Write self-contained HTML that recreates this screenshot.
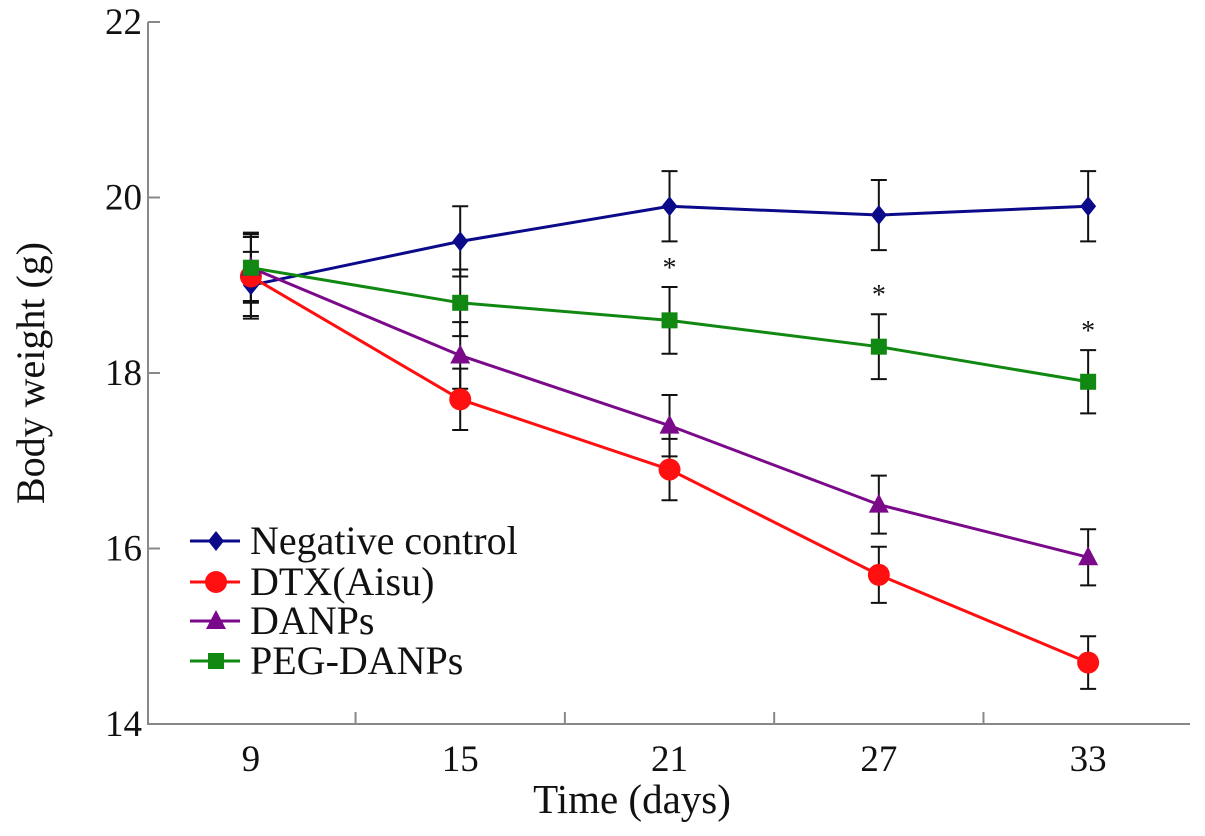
<!DOCTYPE html>
<html><head><meta charset="utf-8"><style>
body{margin:0;background:#fff}
svg text{font-family:"Liberation Serif",serif;fill:#111}
</style></head><body>
<svg id="chart" width="1205" height="831" xmlns="http://www.w3.org/2000/svg"></svg>
<script>
const days=[9,15,21,27,33];
const yTicks=[14,16,18,20,22];
const xMinor=[12,18,24,30];
const seriesNames=["Negative control","DTX(Aisu)","DANPs","PEG-DANPs"];
const negValues=[19.0,19.5,19.9,19.8,19.9];
const negErr=[0.38,0.4,0.4,0.4,0.4];
const dtxValues=[19.1,17.7,16.9,15.7,14.7];
const dtxErr=[0.45,0.35,0.35,0.32,0.3];
const danpValues=[19.2,18.2,17.4,16.5,15.9];
const danpErr=[0.4,0.38,0.35,0.33,0.32];
const pegValues=[19.2,18.8,18.6,18.3,17.9];
const pegErr=[0.38,0.38,0.38,0.37,0.36];
const starDays=[21,27,33];
const NS="http://www.w3.org/2000/svg";
const svg=document.getElementById('chart');
const X0=148,X1=1190,Y0=724,Y1=22;
const xMin=6.05,xMax=35.92,yMin=14,yMax=22;
const xs=v=>X0+(v-xMin)/(xMax-xMin)*(X1-X0);
const ys=v=>Y0-(v-yMin)/(yMax-yMin)*(Y0-Y1);
function el(t,a,p){const e=document.createElementNS(NS,t);for(const k in a)e.setAttribute(k,a[k]);(p||svg).appendChild(e);return e;}
const ax=el('path',{d:`M${X0},${Y1}V${Y0}H${X1}`,fill:'none',stroke:'#888','stroke-width':2});


yTicks.forEach(t=>{
 const l=el('line',{x1:X0,x2:X0+12,y1:ys(t),y2:ys(t),stroke:'#888','stroke-width':2});
 
 
 const tx=el('text',{x:X0-6,y:ys(t)+12,'text-anchor':'end','font-size':37});tx.textContent=t;
 
 
});
xMinor.forEach(t=>{
 const l=el('line',{x1:xs(t),x2:xs(t),y1:Y0,y2:Y0-12,stroke:'#888','stroke-width':2});
 
 
});
days.forEach(d=>{
 const tx=el('text',{x:xs(d),y:771,'text-anchor':'middle','font-size':37});tx.textContent=d;
 
 
});
let t=el('text',{x:632,y:813,'text-anchor':'middle','font-size':41});t.textContent='Time (days)';


t=el('text',{x:0,y:0,'text-anchor':'middle','font-size':40,transform:'translate(44,373) rotate(-90)'});t.textContent='Body weight (g)';


function marker(type,x,y,c,g){
 if(type==='d')return el('polygon',{points:`${x},${y-10} ${x+8},${y} ${x},${y+10} ${x-8},${y}`,fill:c},g);
 if(type==='c')return el('circle',{cx:x,cy:y,r:11,fill:c},g);
 if(type==='t')return el('polygon',{points:`${x},${y-11} ${x+10},${y+8} ${x-10},${y+8}`,fill:c},g);
 return el('rect',{x:x-8,y:y-8,width:16,height:16,fill:c},g);
}
const series=[[negValues,negErr,'#0a0a8a','d','negative-control'],[dtxValues,dtxErr,'#ff0f0f','c','dtx-aisu'],[danpValues,danpErr,'#7a0a8a','t','danps'],[pegValues,pegErr,'#118811','s','peg-danps']];
series.forEach(s=>{
 s[0].forEach((v,i)=>{
  const x=xs(days[i]),a=ys(v+s[1][i]),b=ys(v-s[1][i]);
  const e=el('path',{d:`M${x},${a}V${b}M${x-8},${a}H${x+8}M${x-8},${b}H${x+8}`,stroke:'#111','stroke-width':2,fill:'none'});
  
  
 });
});
series.forEach(s=>{
 const g=el('g',{});
 
 
 el('polyline',{points:s[0].map((v,i)=>xs(days[i])+','+ys(v)).join(' '),fill:'none',stroke:s[2],'stroke-width':3},g);
 s[0].forEach((v,i)=>{const m=marker(s[3],xs(days[i]),ys(v),s[2],g);
  
  });
});
starDays.forEach(d=>{
 const i=days.indexOf(d);
 const st=el('text',{x:xs(d),y:ys(pegValues[i]+pegErr[i])-10,'text-anchor':'middle','font-size':28,fill:'#333'});st.textContent='*';
 
 
});
const lg=el('g',{});


const rows=[541,582,621,661];
series.forEach((s,i)=>{
 const g=el('g',{},lg);
 
 
 el('line',{x1:190,x2:240,y1:rows[i],y2:rows[i],stroke:s[2],'stroke-width':3},g);
 marker(s[3],216,rows[i],s[2],g);
 const tx=el('text',{x:250,y:rows[i]+13,'font-size':40},g);tx.textContent=seriesNames[i];
});
</script>
</body></html>
